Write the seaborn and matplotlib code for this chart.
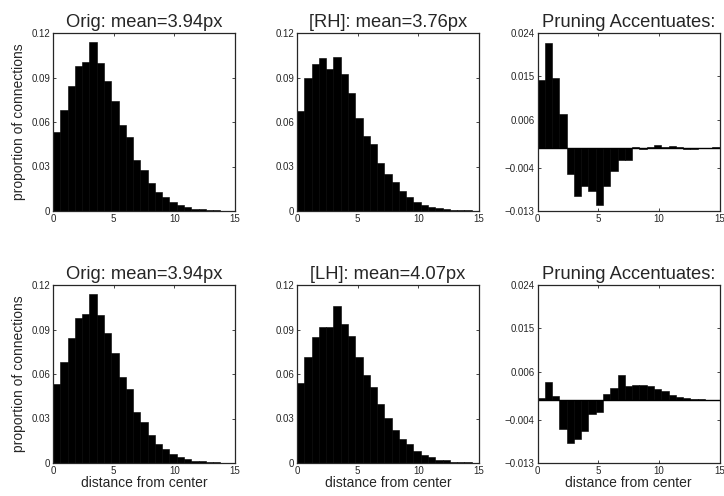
import numpy as np
import pandas as pd
import matplotlib
matplotlib.use("Agg")
import matplotlib.pyplot as plt
import seaborn as sns

# bins of 0.6 px from 0 to 15
bin_edges = np.arange(0, 15.01, 0.6)
bin_centers = (bin_edges[:-1] + bin_edges[1:]) / 2

# proportion of connections per distance bin
orig_prop = [0.0535, 0.0681, 0.0843, 0.0978, 0.1007, 0.1142, 0.0998, 0.0879, 0.0744,
             0.0580, 0.0497, 0.0344, 0.0274, 0.0191, 0.0130, 0.0092, 0.0059, 0.0038,
             0.0025, 0.0016, 0.0011, 0.0007, 0.0004, 0.0003, 0.0002]
rh_prop = [0.0676, 0.0899, 0.0991, 0.1034, 0.0958, 0.1041, 0.0924, 0.0798, 0.0625,
           0.0506, 0.0449, 0.0321, 0.0252, 0.0198, 0.0133, 0.0092, 0.0059, 0.0043,
           0.0029, 0.0018, 0.0011, 0.0007, 0.0004, 0.0004, 0.0003]
lh_prop = [0.0540, 0.0715, 0.0849, 0.0916, 0.0920, 0.1061, 0.0938, 0.0853, 0.0715,
           0.0596, 0.0513, 0.0395, 0.0306, 0.0223, 0.0163, 0.0127, 0.0082, 0.0056,
           0.0040, 0.0023, 0.0017, 0.0010, 0.0006, 0.0004, 0.0003]

# difference (pruned - original)
rh_diff = [0.0143, 0.0219, 0.0146, 0.0072, -0.0053, -0.0099, -0.0079, -0.0089, -0.0118,
           -0.0079, -0.0046, -0.0023, -0.0023, 0.0004, -0.0002, 0.0003, 0.0008, 0.0002,
           0.0005, 0.0003, -0.0002, -0.0001, 0.0000, 0.0001, 0.0002]
lh_diff = [0.0006, 0.0038, 0.0009, -0.0059, -0.0088, -0.0080, -0.0064, -0.0028, -0.0024,
           0.0014, 0.0026, 0.0053, 0.0031, 0.0033, 0.0033, 0.0031, 0.0023, 0.0019,
           0.0012, 0.0007, 0.0006, 0.0003, 0.0002, 0.0001, 0.0001]

titles = [["Orig: mean=3.94px", "[RH]: mean=3.76px", "Pruning Accentuates:"],
          ["Orig: mean=3.94px", "[LH]: mean=4.07px", "Pruning Accentuates:"]]
data = [[orig_prop, rh_prop, rh_diff],
        [orig_prop, lh_prop, lh_diff]]

hist_ticks = [0, 0.03, 0.06, 0.09, 0.12]
hist_labels = ["0", "0.03", "0.06", "0.09", "0.12"]
diff_ticks = [-0.013, -0.004, 0.006, 0.015, 0.024]
diff_labels = ["\u22120.013", "\u22120.004", "0.006", "0.015", "0.024"]

sns.set_style("ticks")
plt.rcParams['font.family'] = ['Liberation Sans', 'DejaVu Sans']

W, H = 724, 496
fig = plt.figure(figsize=(W / 100, H / 100), dpi=100)

lefts = [53, 297, 537.5]
tops = [33, 285]
ax_w, ax_h = 182, 178

for r in range(2):
    for c in range(3):
        ax = fig.add_axes([lefts[c] / W, 1 - (tops[r] + ax_h) / H, ax_w / W, ax_h / H])
        df = pd.DataFrame({"distance": bin_centers, "prop": data[r][c]})
        sns.histplot(data=df, x="distance", weights="prop", bins=list(bin_edges), ax=ax,
                     color="black", edgecolor="black", linewidth=0.4, alpha=1)
        ax.set_xlim(0, 15)
        ax.set_xticks([0, 5, 10, 15])
        ax.set_xticklabels(["0", "5", "10", "15"])
        if c < 2:
            ax.set_ylim(0, 0.12)
            ax.set_yticks(hist_ticks)
            ax.set_yticklabels(hist_labels)
        else:
            ax.axhline(0, color="black", lw=1)
            ax.set_ylim(-0.013, 0.024)
            ax.set_yticks(diff_ticks)
            ax.set_yticklabels(diff_labels)
        ax.tick_params(direction="in", length=2.5, width=0.6, labelsize=7,
                       top=True, right=True, pad=2)
        for sp in ax.spines.values():
            sp.set_visible(True)
            sp.set_linewidth(0.9)
        ax.set_title(titles[r][c], fontsize=13.2, pad=4)
        ax.set_ylabel("proportion of connections" if c == 0 else "", fontsize=10)
        ax.set_xlabel("distance from center" if r == 1 else "", fontsize=10, labelpad=0)

fig.savefig("out.png", dpi=100)
